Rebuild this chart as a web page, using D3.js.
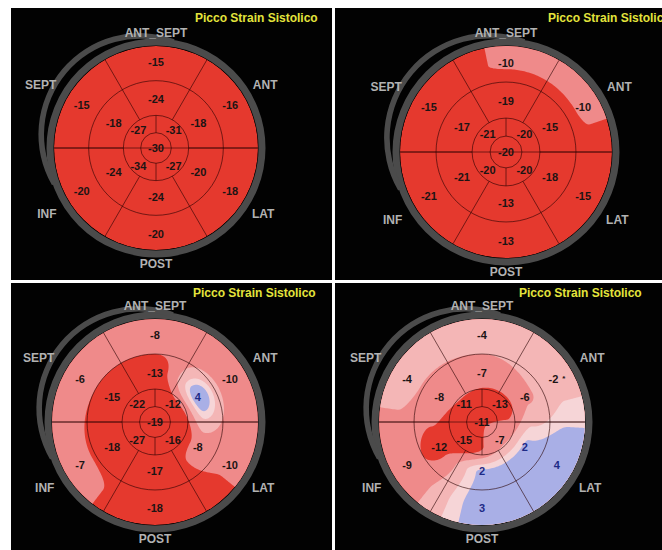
<!DOCTYPE html>
<html>
<head>
<meta charset="utf-8">
<script src="https://cdn.jsdelivr.net/npm/d3@7/dist/d3.min.js"></script>
<style>
  body { margin: 0; background: #fff; }
  svg { display: block; }
</style>
</head>
<body>
<div id="chart"></div>
<script>
// ==========================
// Data
// ==========================
const titles = ["Picco Strain Sistolico", "Picco Strain Sistolico", "Picco Strain Sistolico", "Picco Strain Sistolico"];
const wallNames = ["ANT_SEPT", "ANT", "LAT", "POST", "INF", "SEPT"];

// basal and mid rings, in wallNames order
const basalValues = [
    [-15, -16, -18, -20, -20, -15],
    [-10, -10, -15, -13, -21, -15],
    [-8, -10, -10, -18, -7, -6],
    [-4, -2, 4, 3, -9, -4]
];
const midValues = [
    [-24, -18, -20, -24, -24, -18],
    [-19, -15, -18, -13, -21, -17],
    [-13, 4, -8, -17, -18, -15],
    [-7, -6, 2, 2, -12, -8]
];
// apical quadrants: upper right, lower right, lower left, upper left
const apicalValues = [
    [-31, -27, -34, -27],
    [-20, -20, -20, -21],
    [-12, -16, -27, -22],
    [-13, -7, -15, -11]
];
const apexValues = [-30, -20, -19, -11];
// segments flagged with an asterisk in the basal ring
const basalFlags = [[], [], [], ["ANT"]];

// colour bands of the strain map
const bandThresholds = [-10.5, -5.5, -1, 1.5];
const bandColors = ["#e5392e", "#ef8a8a", "#f4b6b6", "#f6d5d7", "#a9afe6"];

// ==========================
// Layout
// ==========================
const width = 662;
const height = 550;

const panels = [
    { x: 11, y: 8, w: 321, h: 272, cx: 156, cy: 148, r: 102, tx: 195, ty: 22 },
    { x: 335, y: 8, w: 327, h: 272, cx: 506, cy: 152, r: 106, tx: 548, ty: 22 },
    { x: 11, y: 283, w: 321, h: 267, cx: 155, cy: 422, r: 103, tx: 193, ty: 297 },
    { x: 335, y: 283, w: 327, h: 267, cx: 482, cy: 422, r: 103, tx: 519, ty: 297 }
];

const wallAngles = [90, 30, -30, -90, -150, 150];   // degrees, counter-clockwise from 3 o'clock
const apicalAngles = [45, -45, -135, 135];
const knots = [0, 0.24, 0.49, 0.83];                // radial centre of apex / apical / mid / basal
const labelOffsets = [[0, -1.13], [1.07, -0.62], [1.05, 0.64], [0, 1.13], [-1.07, 0.64], [-1.13, -0.62]];
const font = "Liberation Sans, Arial, sans-serif";

const svg = d3.select("#chart")
    .append("svg")
    .attr("width", width)
    .attr("height", height);

svg.append("rect")
    .attr("width", width)
    .attr("height", height)
    .attr("fill", "#fff");

const smooth = t => t * t * (3 - 2 * t);

function ringValue(vals, angles, theta) {
    const step = 360 / vals.length;
    let v = 0;
    vals.forEach((val, k) => {
        const d = Math.abs(((theta - angles[k] + 540) % 360) - 180);
        if (d < step) v += val * (1 - smooth(d / step));
    });
    return v;
}

function strainAt(i, x, y) {
    const r = Math.sqrt(x * x + y * y);
    const theta = Math.atan2(-y, x) * 180 / Math.PI;
    const vals = [
        apexValues[i],
        ringValue(apicalValues[i], apicalAngles, theta),
        ringValue(midValues[i], wallAngles, theta),
        ringValue(basalValues[i], wallAngles, theta)
    ];
    if (r >= knots[3]) return vals[3];
    let k = 0;
    while (r > knots[k + 1]) k++;
    const t = (r - knots[k]) / (knots[k + 1] - knots[k]);
    return vals[k] + (vals[k + 1] - vals[k]) * smooth(t);
}

const n = 150;
const ext = 1.03;

function drawPanel(p, i) {
    svg.append("rect")
        .attr("x", p.x)
        .attr("y", p.y)
        .attr("width", p.w)
        .attr("height", p.h)
        .attr("fill", "#020202");

    const g = svg.append("g");
    const R = p.r;

    // clip to disk
    g.append("clipPath")
        .attr("id", "disk" + i)
        .append("circle")
        .attr("cx", p.cx)
        .attr("cy", p.cy)
        .attr("r", R);

    const map = g.append("g").attr("clip-path", `url(#disk${i})`);

    map.append("circle")
        .attr("cx", p.cx)
        .attr("cy", p.cy)
        .attr("r", R)
        .attr("fill", bandColors[0]);

    // interpolated strain field
    const values = new Array(n * n);
    for (let j = 0; j < n; j++) {
        for (let k = 0; k < n; k++) {
            const x = -ext + k * 2 * ext / (n - 1);
            const y = -ext + j * 2 * ext / (n - 1);
            values[j * n + k] = strainAt(i, x, y);
        }
    }
    const contours = d3.contours().size([n, n]).thresholds(bandThresholds)(values);
    const s = 2 * ext / (n - 1) * R;
    const path = d3.geoPath(d3.geoIdentity().scale(s).translate([p.cx - ext * R - 0.5 * s, p.cy - ext * R - 0.5 * s]));

    map.selectAll("path.band")
        .data(contours)
        .enter()
        .append("path")
        .attr("class", "band")
        .attr("d", path)
        .attr("fill", (d, k) => bandColors[k + 1]);

    // segment grid
    const lineColor = "rgba(40,0,0,0.6)";
    [0.15, 0.32, 0.66].forEach(f => {
        map.append("circle")
            .attr("cx", p.cx)
            .attr("cy", p.cy)
            .attr("r", f * R)
            .attr("fill", "none")
            .attr("stroke", lineColor)
            .attr("stroke-width", 1);
    });
    [0, 60, 120, 180, 240, 300].forEach(a => {
        const rad = a * Math.PI / 180;
        map.append("line")
            .attr("x1", p.cx + 0.32 * R * Math.cos(rad))
            .attr("y1", p.cy - 0.32 * R * Math.sin(rad))
            .attr("x2", p.cx + R * Math.cos(rad))
            .attr("y2", p.cy - R * Math.sin(rad))
            .attr("stroke", lineColor);
    });
    map.append("line")
        .attr("x1", p.cx - R).attr("y1", p.cy)
        .attr("x2", p.cx + R).attr("y2", p.cy)
        .attr("stroke", lineColor);
    [-1, 1].forEach(sg => {
        map.append("line")
            .attr("x1", p.cx).attr("y1", p.cy + sg * 0.15 * R)
            .attr("x2", p.cx).attr("y2", p.cy + sg * 0.32 * R)
            .attr("stroke", lineColor);
    });

    // gray rings
    g.append("circle")
        .attr("cx", p.cx)
        .attr("cy", p.cy)
        .attr("r", R + 4)
        .attr("fill", "none")
        .attr("stroke", "#4b4b4b")
        .attr("stroke-width", 7);

    const arcR = R + 4 - 0.072 * R;
    g.append("path")
        .attr("transform", `translate(${p.cx - 0.158 * R},${p.cy - 0.132 * R})`)
        .attr("d", d3.arc()
            .innerRadius(arcR - 2.8)
            .outerRadius(arcR + 2.8)
            .startAngle(-120 * Math.PI / 180)
            .endAngle(20 * Math.PI / 180))
        .attr("fill", "#4b4b4b");

    // segment values
    const labels = [];
    wallAngles.forEach((a, k) => {
        labels.push({ v: basalValues[i][k], a, f: 0.84, flag: basalFlags[i].includes(wallNames[k]) });
        labels.push({ v: midValues[i][k], a, f: 0.48 });
    });
    apicalAngles.forEach((a, k) => labels.push({ v: apicalValues[i][k], a, f: 0.245 }));
    labels.push({ v: apexValues[i], a: 0, f: 0 });

    const vt = g.selectAll("text.val")
        .data(labels)
        .enter()
        .append("text")
        .attr("class", "val")
        .attr("x", d => p.cx + d.f * R * Math.cos(d.a * Math.PI / 180))
        .attr("y", d => p.cy - d.f * R * Math.sin(d.a * Math.PI / 180))
        .attr("dy", "0.36em")
        .attr("text-anchor", "middle")
        .attr("font-family", font)
        .attr("font-weight", "bold")
        .attr("font-size", 11)
        .attr("fill", d => d.v > 0 ? "#1e2a86" : "#1c1414")
        .text(d => d.v);

    vt.filter(d => d.flag)
        .append("tspan")
        .attr("dx", 4)
        .attr("dy", -2)
        .attr("font-size", 8)
        .text("*");

    // wall names
    g.selectAll("text.wall")
        .data(wallNames)
        .enter()
        .append("text")
        .attr("class", "wall")
        .attr("x", (d, k) => p.cx + labelOffsets[k][0] * R)
        .attr("y", (d, k) => p.cy + labelOffsets[k][1] * R)
        .attr("dy", "0.36em")
        .attr("text-anchor", "middle")
        .attr("font-family", font)
        .attr("font-weight", "bold")
        .attr("font-size", 12)
        .attr("fill", "#b2b2b2")
        .text(d => d);

    // title
    g.append("text")
        .attr("x", p.tx)
        .attr("y", p.ty)
        .attr("font-family", font)
        .attr("font-weight", "bold")
        .attr("font-size", 12)
        .attr("fill", "#e4e43c")
        .text(titles[i]);
}

panels.forEach(drawPanel);
</script>
</body>
</html>
